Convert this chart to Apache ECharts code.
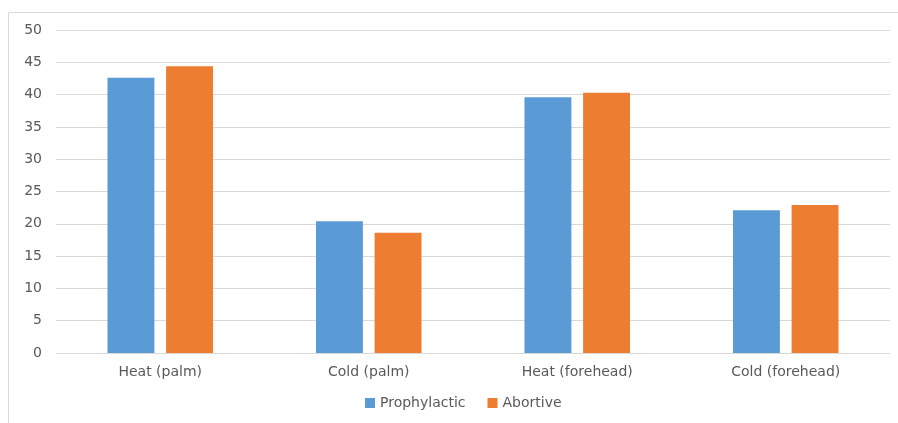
<!DOCTYPE html>
<html><head><meta charset="utf-8">
<script src="https://cdn.jsdelivr.net/npm/echarts@6/dist/echarts.min.js"></script>
<style>html,body{margin:0;padding:0;background:#fff}#c{width:898px;height:423px}</style>
</head><body><div id="c"></div>
<script>
const categories = ['Heat (palm)', 'Cold (palm)', 'Heat (forehead)', 'Cold (forehead)'];
const prophylactic = [42.6, 20.4, 39.6, 22.1];
const abortive = [44.4, 18.6, 40.3, 22.9];
const seriesNames = ['Prophylactic', 'Abortive'];

const chart = echarts.init(document.getElementById('c'), null, {renderer: 'canvas'});
const font = '"DejaVu Sans", sans-serif';
chart.setOption({
  animation: false,
  textStyle: {fontFamily: font},
  graphic: [{type: 'rect', shape: {x: 8.5, y: 12.5, width: 900, height: 420}, style: {fill: 'none', stroke: '#d9d9d9', lineWidth: 1}, silent: true}],
  grid: {left: 56, right: 8, top: 30, bottom: 70},
  legend: {
    bottom: 8, left: 360, itemWidth: 10, itemHeight: 10, itemGap: 22, itemStyle: {borderWidth: 0}, icon: 'rect',
    textStyle: {color: '#595959', fontSize: 14, fontFamily: font},
    data: seriesNames
  },
  xAxis: {
    type: 'category', data: categories,
    axisLine: {lineStyle: {color: '#d9d9d9'}},
    axisTick: {show: false},
    axisLabel: {color: '#595959', fontSize: 14, margin: 12, fontFamily: font}
  },
  yAxis: {
    type: 'value', min: 0, max: 50, interval: 5,
    axisLine: {show: false}, axisTick: {show: false},
    splitLine: {lineStyle: {color: '#d9d9d9'}},
    axisLabel: {color: '#595959', fontSize: 14, margin: 14, fontFamily: font}
  },
  series: [
    {name: seriesNames[0], type: 'bar', data: prophylactic, barWidth: '22.5%', barGap: '25%', itemStyle: {color: '#5B9BD5'}},
    {name: seriesNames[1], type: 'bar', data: abortive, barWidth: '22.5%', barGap: '25%', itemStyle: {color: '#ED7D31'}}
  ]
});
</script></body></html>
